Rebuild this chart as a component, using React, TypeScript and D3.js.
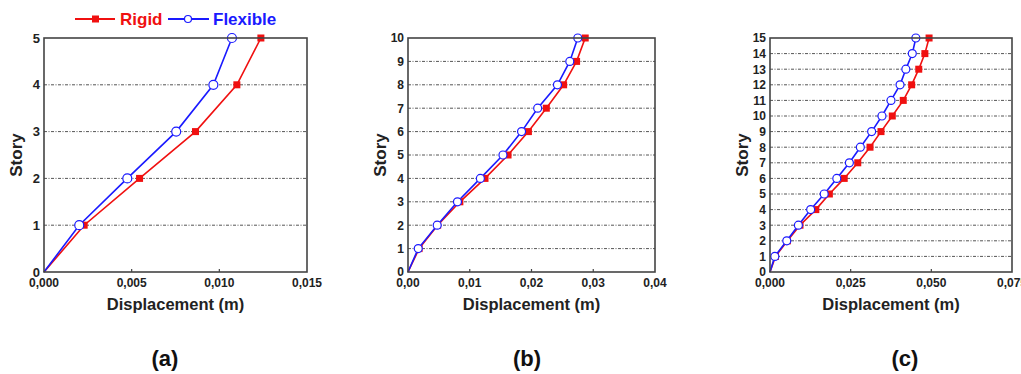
import * as d3 from 'd3';

// Story drift profiles (displacement in m)
const storiesA = [0, 1, 2, 3, 4, 5];
const rigidA = [0, 0.00229, 0.00545, 0.00864, 0.0110, 0.01237];
const flexA = [0, 0.00201, 0.00475, 0.00754, 0.00966, 0.01072];

const storiesB = [0, 1, 2, 3, 4, 5, 6, 7, 8, 9, 10];
const rigidB = [0, 0.0018, 0.0048, 0.0084, 0.01247, 0.0162, 0.0195, 0.0224, 0.0252, 0.0273, 0.0287];
const flexB = [0, 0.00166, 0.00473, 0.00801, 0.01172, 0.01538, 0.01839, 0.0210, 0.0242, 0.0262, 0.0275];

const storiesC = [0, 1, 2, 3, 4, 5, 6, 7, 8, 9, 10, 11, 12, 13, 14, 15];
const rigidC = [0, 0.0017, 0.0054, 0.0093, 0.0142, 0.0184, 0.0230, 0.0272, 0.0310, 0.0344, 0.0379, 0.0413, 0.0439, 0.0461, 0.0480, 0.0493];
const flexC = [0, 0.0015, 0.0052, 0.0088, 0.0126, 0.0168, 0.0207, 0.0246, 0.0280, 0.0315, 0.0347, 0.0375, 0.0403, 0.0421, 0.0441, 0.0452];

const xTicksA = [0, 0.005, 0.01, 0.015];
const xTicksB = [0, 0.01, 0.02, 0.03, 0.04];
const xTicksC = [0, 0.025, 0.05, 0.075];

const RED = '#f01010';
const BLUE = '#1a1aff';
const FONT = '"Liberation Sans", Arial, sans-serif';

interface PanelProps {
  left: number;
  right: number;
  stories: number[];
  rigid: number[];
  flex: number[];
  xTicks: number[];
  decimals: number;
  label: string;
  labelX: number;
}

const TOP = 38;
const BOTTOM = 272;

const Panel = ({ left, right, stories, rigid, flex, xTicks, decimals, label, labelX }: PanelProps) => {
  const maxStory = stories[stories.length - 1];
  const x = d3.scaleLinear().domain([0, xTicks[xTicks.length - 1]]).range([left, right]);
  const y = d3.scaleLinear().domain([0, maxStory]).range([BOTTOM, TOP]);
  const line = d3.line<[number, number]>().x(d => x(d[0])).y(d => y(d[1]));
  const rigidPts = rigid.map((v, i) => [v, stories[i]] as [number, number]);
  const flexPts = flex.map((v, i) => [v, stories[i]] as [number, number]);
  const fmt = (v: number) => v.toFixed(decimals).replace('.', ',');
  const cx = (left + right) / 2;
  const small = maxStory > 5;

  return (
    <g>
      {/* dashed story gridlines */}
      {stories.filter(s => s > 0 && s < maxStory).map(s => (
        <line key={'g' + s} x1={left} x2={right} y1={y(s)} y2={y(s)}
          stroke="#555" strokeWidth={1} strokeDasharray="3,1.5,1,1.5" />
      ))}
      {/* bottom ticks pointing in */}
      {xTicks.slice(1, -1).map(t => (
        <line key={'t' + t} x1={x(t)} x2={x(t)} y1={BOTTOM} y2={BOTTOM - 3} stroke="#444" strokeWidth={1.2} />
      ))}
      <path d={line(rigidPts) || ''} fill="none" stroke={RED} strokeWidth={1.6} />
      <path d={line(flexPts) || ''} fill="none" stroke={BLUE} strokeWidth={1.6} />
      {rigidPts.slice(1).map((p, i) => (
        <rect key={'r' + i} x={x(p[0]) - 3.5} y={y(p[1]) - 3.5} width={7} height={7} fill={RED} />
      ))}
      {flexPts.slice(1).map((p, i) => (
        <circle key={'f' + i} cx={x(p[0])} cy={y(p[1])} r={small ? 4 : 4.5}
          fill="#fff" stroke={BLUE} strokeWidth={1.2} />
      ))}
      <rect x={left} y={TOP} width={right - left} height={BOTTOM - TOP}
        fill="none" stroke="#444" strokeWidth={1.6} />
      {stories.map(s => (
        <text key={'y' + s} x={left - 4} y={y(s)} dy="0.36em" textAnchor="end"
          fontFamily={FONT} fontWeight="bold" fontSize={small ? 12 : 13} fill="#222">{s}</text>
      ))}
      {xTicks.map(t => (
        <text key={'x' + t} x={x(t)} y={BOTTOM + 15} textAnchor="middle"
          fontFamily={FONT} fontWeight="bold" fontSize={12} fill="#222">{fmt(t)}</text>
      ))}
      <text x={cx} y={BOTTOM + 38} textAnchor="middle" fontFamily={FONT} fontWeight="bold"
        fontSize={16.5} fill="#222">Displacement (m)</text>
      <text transform={`translate(${left - 22},${(TOP + BOTTOM) / 2}) rotate(-90)`} textAnchor="middle"
        fontFamily={FONT} fontWeight="bold" fontSize={17} fill="#222">Story</text>
      <text x={labelX} y={366} textAnchor="middle" fontFamily={FONT} fontWeight="bold"
        fontSize={22} fill="#111">{label}</text>
    </g>
  );
};

export default function App() {
  return (
    <svg width={1021} height={374} style={{ position: 'absolute', left: 0, top: 0, background: '#fff' }}>
      {/* legend */}
      <g>
        <line x1={75} x2={115} y1={19} y2={19} stroke={RED} strokeWidth={2} />
        <rect x={92} y={15.5} width={7} height={7} fill={RED} />
        <text x={120} y={25} fontFamily={FONT} fontWeight="bold" fontSize={17} fill={RED}>Rigid</text>
        <line x1={168} x2={209} y1={19} y2={19} stroke={BLUE} strokeWidth={2} />
        <circle cx={188} cy={19} r={3.5} fill="#fff" stroke={BLUE} strokeWidth={1.2} />
        <text x={213} y={25} fontFamily={FONT} fontWeight="bold" fontSize={17} fill={BLUE}>Flexible</text>
      </g>
      <Panel left={44} right={307} stories={storiesA} rigid={rigidA} flex={flexA} xTicks={xTicksA} decimals={3} label="(a)" labelX={165} />
      <Panel left={408} right={655} stories={storiesB} rigid={rigidB} flex={flexB} xTicks={xTicksB} decimals={2} label="(b)" labelX={527} />
      <Panel left={770} right={1012} stories={storiesC} rigid={rigidC} flex={flexC} xTicks={xTicksC} decimals={3} label="(c)" labelX={905} />
    </svg>
  );
}
